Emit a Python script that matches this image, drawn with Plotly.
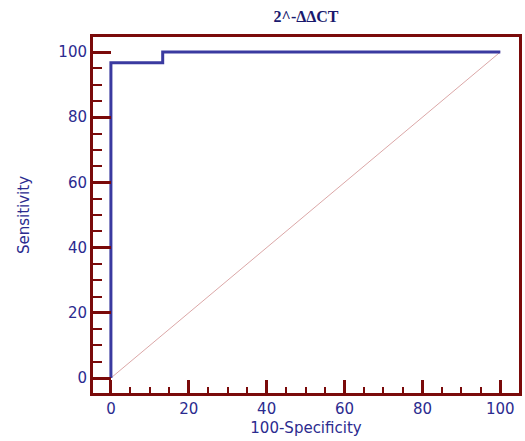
import plotly.graph_objects as go

roc_x = [0, 0, 13.3, 13.3, 100]
roc_y = [0, 96.7, 96.7, 100, 100]
diag_x = [0, 100]
diag_y = [0, 100]
title = "2^-ΔΔCT"
x_title = "100-Specificity"
y_title = "Sensitivity"

frame = "#7a0a0a"
navy = "#2b2b8f"

fig = go.Figure()
fig.add_trace(go.Scatter(x=diag_x, y=diag_y, mode="lines",
                         line=dict(color="#dba7a7", width=1), hoverinfo="skip"))
fig.add_trace(go.Scatter(x=roc_x, y=roc_y, mode="lines",
                         line=dict(color="#3a3aa0", width=3)))

axis_font = dict(family="DejaVu Sans", size=15, color=navy)
fig.update_layout(
    width=525, height=441,
    margin=dict(l=93, r=3, t=37, b=48),
    paper_bgcolor="white", plot_bgcolor="white",
    showlegend=False,
    title=dict(text=f"<b>{title}</b>", x=0.583, xanchor="center", y=0.962, yanchor="middle",
               font=dict(family="Liberation Serif, Times New Roman", size=16, color="#1a1a6e")),
    xaxis=dict(range=[-4.6, 104.8], tickvals=[0, 20, 40, 60, 80, 100],
               showgrid=False, zeroline=False, showline=True, linecolor=frame, linewidth=3,
               mirror=True, ticks="inside", ticklen=13, tickwidth=3, tickcolor=frame,
               tickfont=axis_font,
               minor=dict(dtick=5, tick0=0, ticks="inside", ticklen=6, tickwidth=2, tickcolor=frame),
               title=dict(text=x_title, font=axis_font, standoff=6)),
    yaxis=dict(range=[-4.6, 104.6], tickvals=[0, 20, 40, 60, 80, 100],
               showgrid=False, zeroline=False, showline=True, linecolor=frame, linewidth=3,
               mirror=True, ticks="inside", ticklen=18, tickwidth=3, tickcolor=frame,
               tickfont=axis_font,
               minor=dict(dtick=5, tick0=0, ticks="inside", ticklen=9, tickwidth=2, tickcolor=frame),
               title=dict(text=y_title, font=axis_font, standoff=26)),
)
fig.write_html("out.html")
